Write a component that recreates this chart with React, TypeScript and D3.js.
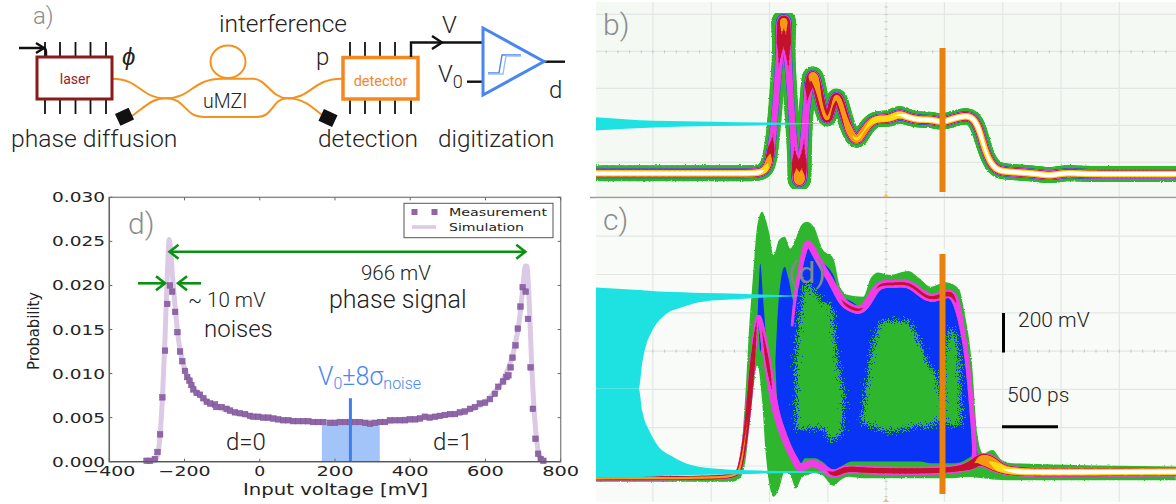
import React from "react";
import * as d3 from "d3";

// ---------- panel d: histogram ----------
const measV = [-301,-292,-279,-272,-265,-259,-252,-246,-239,-233,-225,-219,-212,-206,-199,-193,-187,-182,-177,-168,-159,-150,-141,-132,-119,-115,-101,-88,-79,-66,-53,-39,-26,-17,-4,9,23,36,49,63,76,89,102,116,129,142,156,169,187,200,213,227,240,253,266,280,293,306,320,333,346,359,373,386,399,413,426,439,452,466,479,492,506,519,532,545,559,572,585,599,612,625,634,647,656,661,667,672,680,686,693,699,707,713,720,726,733,740,747,754];
const measP = [.0001,.0001,.0003,.0011,.0031,.0073,.0126,.0179,.02,.0193,.017,.0147,.0125,.0114,.0103,.0096,.0092,.0087,.0082,.0078,.0076,.0072,.0068,.0066,.0065,.0062,.0062,.006,.0058,.0056,.0055,.0054,.0052,.0051,.0051,.005,.005,.0049,.0048,.0047,.0047,.0046,.0046,.0046,.0046,.0045,.0045,.0045,.0044,.0044,.0045,.0045,.0045,.0045,.0045,.0044,.0043,.0044,.0045,.0045,.0047,.0047,.0047,.0047,.0048,.0048,.0049,.0051,.005,.0051,.0052,.0053,.0054,.0054,.0056,.0057,.006,.0062,.0066,.0067,.0071,.0077,.0085,.0091,.0096,.0098,.0107,.0118,.0132,.0151,.0176,.0198,.0193,.0162,.0107,.006,.0026,.0009,.0003,.0001];
const simV = [-300,-280,-272,-265,-258,-252,-246,-241,-238,-232,-225,-215,-205,-190,-170,-140,-100,-50,0,50,100,170,240,320,400,450,500,560,600,640,660,675,690,700,706,710,716,722,730,738,745,755];
const simP = [0,.0001,.0007,.003,.008,.014,.021,.0252,.0245,.021,.0175,.0135,.0113,.0095,.008,.0068,.006,.0054,.005,.0048,.0046,.0045,.0045,.0045,.0049,.005,.0053,.0059,.0068,.0088,.0105,.0125,.016,.02,.0222,.0222,.0185,.012,.0055,.0018,.0005,0];
const xTicksD = [-400,-200,0,200,400,600,800];
const yTicksD = [0,.005,.01,.015,.02,.025,.03];

// ---------- panel b: single-state trace (ps, mV) ----------
const bT = [0,591,912,1233,1393,1457,1489,1522,1554,1586,1611,1640,1666,1698,1724,1746,1772,1798,1826,1859,1900,1939,1987,2019,2061,2099,2147,2196,2244,2292,2356,2420,2517,2597,2677,2773,2870,2966,3046,3127,3207,3271,3319,3367,3432,3512,3640,3801,3897,4025,4186,4443,4764,4974];
const bV = [0,0,0,0,0,18,72,216,486,720,880,684,432,144,-9,-60,36,324,486,550,468,342,270,360,430,378,270,198,175,225,279,297,292,324,302,288,292,274,292,306,312,270,162,72,18,9,4,-4,-14,4,-4,-4,-4,-4];
const bW = [16,16,16,16,16,16,15,14,14,15,28,15,14,14,18,24,18,14,16,20,18,16,16,15,18,17,16,16,18,16,16,16,16,18,16,16,16,16,16,16,16,16,15,15,16,16,16,16,16,16,16,16,16,16];
const bHot = [1,1,1,1,1,.8,.5,.12,.1,.3,.6,.3,.1,.1,.45,.7,.3,.1,.3,.6,.5,.45,.5,.4,.5,.5,.5,.6,.7,.6,.7,.8,.8,.8,1,1,1,1,1,1,1,1,.9,.9,1,1,1,1,1,1,1,1,1,1];
const bCyanT = [0,500,1000,1500,2003];
const bCyanTop = [303,284,279,274,270];
const bCyanBottom = [232,248,256,261,270];

// ---------- panel c: gated trace ----------
const cEnvT = [0,1168,1233,1281,1313,1345,1384,1425,1457,1483,1522,1570,1618,1666,1714,1762,1810,1875,1939,2035,2099,2164,2292,2356,2420,2517,2677,2773,2870,2998,3111,3159,3223,3271,3319,3399,3480,3576,4972];
const cEnvTop = [-5,-5,70,418,766,1027,1305,1375,1331,1270,1148,1227,1244,1183,1235,1305,1322,1288,1183,1131,974,940,931,1027,1058,1044,1065,1027,983,1006,974,853,592,209,113,131,78,61,44];
const cEnvBottom = [-35,-35,-17,70,244,418,574,383,104,-35,-113,-70,17,0,-70,-17,0,9,0,-56,-26,-9,-17,-17,-17,-17,-17,-17,-17,-17,-14,-10,-10,-14,-17,-23,-26,-28,-28];
const cBlueT = [1538,1570,1618,1650,1698,1746,1794,1875,1939,2035,2099,2196,2292,2356,2420,2549,2677,2773,2870,2998,3078,3143,3191,3255,3274];
const cBlueTop = [592,940,1088,1027,905,1079,1201,1157,1114,1044,940,905,870,940,1006,1001,1013,974,922,940,940,766,592,209,87];
const cBlueBottom = [592,261,209,148,70,52,87,87,70,26,44,70,70,70,70,70,70,70,61,61,61,70,87,104,87];
const cSpikeT = [1377,1393,1409,1431,1457];
const cSpikeTop = [679,940,1105,940,722];
const cSpikeBottom = [679,766,644,713,722];
const blobAT = [1714,1762,1810,1875,1939,2019,2051,2099,2131];
const blobATop = [626,905,1009,957,905,887,713,505,418];
const blobABottom = [244,235,244,244,244,183,191,209,418];
const blobBT = [2276,2340,2388,2484,2677,2773,2854,2918,2982];
const blobBTop = [278,557,713,809,800,696,574,522,278];
const blobBBottom = [278,261,252,226,244,261,252,278,278];
const blobCT = [2982,3046,3111,3133];
const blobCTop = [592,766,644,278];
const blobCBottom = [278,261,261,278];
const cUpT = [1682,1708,1746,1794,1826,1875,1939,2035,2115,2196,2276,2356,2420,2549,2677,2773,2870,2998,3078,3143,3191,3223,3255,3223];
const cUpV = [783,940,1062,1201,1218,1157,1088,992,896,870,853,922,1001,995,1006,957,913,948,948,766,574,331,104,49];
const cUpW = [7,8,11,14,16,16,16,16,16,16,16,16,16,16,16,16,16,16,16,12,12,12,12,12];
const cUpHot = [0,0,0,0,0,0,0,0,.25,.25,.25,.1,.25,.25,.25,.25,.25,.28,.3,0,0,0,0,0];
const cLoT = [0,1184,1233,1297,1361,1393,1441,1489,1538,1586,1650,1714,1746,1843,1939,2035,2131,2260,2517,2998,3223,3287,3383,3480,3640,3801,4972];
const cLoV = [-17,-17,9,244,731,880,696,522,331,244,139,70,26,70,44,-9,35,26,21,21,44,87,70,26,17,14,17];
const cLoW = [8,8,9,10,11,8,14,15,16,16,16,16,16,16,16,16,16,16,16,16,16,20,30,18,17,17,17];
const cLoHot = [.5,.5,.5,.4,.35,.1,.25,.3,.1,.1,.05,.05,.2,.1,.1,.3,.3,.3,.3,.3,.3,.5,.6,.8,1,1,1];
const cCyanUpT = [0,366,398,430,478,591,751,912,1233,1554,1794];
const cCyanUpTop = [979,966,965,963,961,957,954,950,947,940,935];
const cCyanUpBottom = [452,452,592,679,748,835,878,905,919,930,935];
const cCyanLoT = [0,366,398,462,526,655,815,1072,1393,1714,2003];
const cCyanLoTop = [452,452,331,226,157,96,52,31,23,21,16];
const cCyanLoBottom = [-14,-14,-10,-9,-7,-3,0,3,7,10,16];

// ---------- trace colours ----------
const layers = [
  { c: "#2fb62d", ratio: 1, th: -1 },
  { c: "#2350f0", ratio: 0.62, th: -1 },
  { c: "#f03ee6", ratio: 0.56, th: -1 },
  { c: "#c4122c", ratio: 0.48, th: 0.2 },
  { c: "#f59a12", ratio: 0.42, th: 0.4 },
  { c: "#f8de12", ratio: 0.34, th: 0.6 },
  { c: "#ffffff", ratio: 0.24, th: 0.8 },
];

const sans = "Roboto, 'Liberation Sans', sans-serif";
const mpl = "'DejaVu Sans', sans-serif";
const ink = "#232323";
const gray = "#8c8c8c";
const orange = "#f5871f";
const blue = "#4a86f0";
const darkGreen = "#0b9112";

const tx = d3.scaleLinear().domain([0, 4974]).range([596, 1176]);
const byB = d3.scaleLinear().domain([0, 200]).range([173.3, 136.3]);
const cy = d3.scaleLinear().domain([0, 200]).range([475, 436.7]);
const dx = d3.scaleLinear().domain([-400, 800]).range([109.33, 560.67]);
const dy = d3.scaleLinear().domain([0, 0.03]).range([461.67, 197.33]);

function band(t: number[], top: number[], bottom: number[], y: any) {
  const idx = d3.range(t.length);
  return d3.area<number>().x((i) => tx(t[i])).y0((i) => y(bottom[i])).y1((i) => y(top[i])).curve(d3.curveMonotoneX)(idx) as string;
}

function Trace({ t, v, w, hot, y, from = 0 }: any) {
  const n = (t.length - 1) * 8;
  const ft = d3.interpolateBasis(t), fv = d3.interpolateBasis(v), fw = d3.interpolateBasis(w), fh = d3.interpolateBasis(hot);
  const pts = d3.range(n + 1).map((i) => {
    const u = i / n;
    return { x: tx(ft(u)), y: y(fv(u)), w: fw(u), h: fh(u) };
  });
  const seg = d3.line<any>().x((p) => p.x).y((p) => p.y);
  return (
    <g fill="none" strokeLinecap="round">
      {layers.slice(from).map((l, li) => (
        <g key={li} stroke={l.c} filter={l.ratio === 1 ? "url(#rough)" : undefined}>
          {pts.slice(1).map((p, i) => {
            let k = 1;
            if (l.th >= 0) k = Math.max(0, Math.min(1, (p.h - l.th) / 0.15));
            else if (l.ratio < 1) k = 0.7 + 0.3 * Math.min(1, p.h / 0.4);
            const sw = p.w * l.ratio * k;
            return sw > 0.05 ? <path key={i} d={seg([pts[i], p]) as string} strokeWidth={sw} /> : null;
          })}
        </g>
      ))}
    </g>
  );
}

function Grid({ y, y0, top, bottom, mid }: any) {
  const vs = d3.range(488, 4974, 500);
  const hs = d3.range(y0, 1400, 200).filter((v: number) => y(v) > top && y(v) < bottom);
  const minor = d3.range(88, 4974, 100);
  const minorV = d3.range(y0 - 200, 1400, 40).filter((v: number) => y(v) > top && y(v) < bottom);
  return (
    <g>
      {vs.map((t: number) => <line key={t} x1={tx(t)} x2={tx(t)} y1={top} y2={bottom} stroke="#e3e7e3" strokeWidth={1.2} />)}
      {hs.map((v: number) => <line key={v} x1={596} x2={1176} y1={y(v)} y2={y(v)} stroke="#e3e7e3" strokeWidth={1.2} />)}
      {minor.map((t: number) => <line key={t} x1={tx(t)} x2={tx(t)} y1={y(mid) - 1.5} y2={y(mid) + 1.5} stroke="#c4c8c4" />)}
      {minorV.map((v: number) => <line key={v} x1={tx(2488) - 1.5} x2={tx(2488) + 1.5} y1={y(v)} y2={y(v)} stroke="#c4c8c4" />)}
    </g>
  );
}

function T({ x, y, s, c = ink, anchor = "start", w = 300, f = sans, ...rest }: any) {
  return <text x={x} y={y} fontSize={s} fill={c} textAnchor={anchor} fontWeight={w} fontFamily={f} {...rest} />;
}

function Chevron({ x, y, dir }: any) {
  return <path d={`M${x - dir * 9},${y - 7} L${x},${y} L${x - dir * 9},${y + 7}`} fill="none" stroke={darkGreen} strokeWidth={2.6} />;
}

function PanelA() {
  const wg = "#f5921e";
  const laserPins = [45, 60, 75.5, 90.5, 106];
  const detPins = [350, 365, 380, 395, 411];
  return (
    <g>
      <T x={33} y={24} s={24} c={gray}>a)</T>
      <T x={219} y={32} s={24.5}>interference</T>
      {laserPins.map((x) => <line key={x} x1={x} x2={x} y1={42} y2={114} stroke="#111" strokeWidth={1.8} />)}
      {detPins.map((x) => <line key={x} x1={x} x2={x} y1={42} y2={114} stroke="#111" strokeWidth={1.8} />)}
      <path d="M19,48 H43 Q46,48 46,52 V57" fill="none" stroke="#111" strokeWidth={2.4} />
      <path d="M36,43 L44,48 L36,53" fill="none" stroke="#111" strokeWidth={2.4} />
      <g fill="none" stroke={wg} strokeWidth={2}>
        <path d="M112,78.7 C140,78.7 140,98.3 166,98.3 C192,98.3 192,78.7 222,78.7 H253 C266,78.7 272,98.3 287,98.3 C312,98.3 312,78.7 342,78.7" />
        <path d="M132,116 C146,106 152,98.3 166,98.3 C186,98.3 184,117 204,117 H257 C274,117 272,98.3 287,98.3 C302,98.3 310,105 322,115" />
        <ellipse cx={228} cy={61.7} rx={17.5} ry={16.3} />
      </g>
      <rect x={37} y={57} width={75} height={42} fill="#fff" stroke="#8b1a1a" strokeWidth={3} />
      <T x={75} y={84} s={14} c="#96201f" anchor="middle" w={400}>laser</T>
      <rect x={343} y={57.5} width={75} height={41.5} fill="#fff" stroke={orange} strokeWidth={3.5} />
      <T x={380.5} y={86} s={14.5} c={orange} anchor="middle" w={400}>detector</T>
      <rect x={-7.5} y={-6.5} width={15} height={13} fill="#111" transform="translate(124.5,116.7) rotate(-25)" />
      <rect x={-7.5} y={-6.5} width={15} height={13} fill="#111" transform="translate(328,118) rotate(25)" />
      <T x={203} y={108} s={19.5}>uMZI</T>
      <T x={122} y={65} s={24} fontStyle="italic" w={400}>ϕ</T>
      <T x={316} y={65} s={24}>p</T>
      <path d="M411,57 V42.5 H483" fill="none" stroke="#111" strokeWidth={2.4} />
      <path d="M432,36 L442,42.5 L432,49" fill="none" stroke="#111" strokeWidth={2.4} />
      <T x={442} y={33} s={24}>V</T>
      <T x={438} y={82} s={24}>V<tspan dy={6} fontSize={18}>0</tspan></T>
      <line x1={467} x2={483} y1={81.7} y2={81.7} stroke="#111" strokeWidth={2.4} />
      <line x1={544} x2={565} y1={61.7} y2={61.7} stroke="#111" strokeWidth={2.4} />
      <path d="M483,28 L544,61.5 L483,95 Z" fill="#fff" stroke={blue} strokeWidth={3} />
      <path d="M488,73 H499 L502,55 H521" fill="none" stroke={blue} strokeWidth={1.4} />
      <path d="M488,74 H503 L506,56 H521" fill="none" stroke="#9dbdf6" strokeWidth={1.4} />
      <T x={549} y={98} s={24}>d</T>
      <T x={11} y={147} s={24.7}>phase diffusion</T>
      <T x={318} y={147} s={24.5}>detection</T>
      <T x={438} y={147} s={24.3}>digitization</T>
    </g>
  );
}

function PanelD() {
  const idx = d3.range(simV.length);
  const sim = d3.line<number>().x((i) => dx(simV[i])).y((i) => dy(simP[i])).curve(d3.curveMonotoneX)(idx) as string;
  const fmt = d3.format(".3f");
  const arrowL = dx(-240), arrowR = dx(706);
  return (
    <g>
      <rect x={dx(165)} width={dx(319) - dx(165)} y={dy(0.0045)} height={dy(0) - dy(0.0045)} fill="#a3c4f8" />
      <path d={sim} fill="none" stroke="#dcc9e6" strokeWidth={5} />
      {measV.map((v, i) => (
        <rect key={i} x={dx(v) - 2.8} y={dy(measP[i]) - 2.8} width={5.6} height={5.6} fill="#8f67a9" stroke="#7c5596" strokeWidth={0.5} />
      ))}
      <line x1={dx(241)} x2={dx(241)} y1={dy(0.0072)} y2={dy(0)} stroke="#3f7ef0" strokeWidth={3} />
      <rect x={dx(-400)} y={dy(0.03)} width={dx(800) - dx(-400)} height={dy(0) - dy(0.03)} fill="none" stroke="#8a8a8a" strokeWidth={1.4} />
      <line x1={dx(-400)} x2={dx(-400)} y1={dy(0)} y2={dy(0.03)} stroke="#666" strokeWidth={1.4} />
      <line x1={dx(-400)} x2={dx(800)} y1={dy(0)} y2={dy(0)} stroke="#555" strokeWidth={1.4} />
      {xTicksD.map((v) => (
        <g key={v} stroke="#666">
          <line x1={dx(v)} x2={dx(v)} y1={dy(0)} y2={dy(0) - 3} />
          <line x1={dx(v)} x2={dx(v)} y1={dy(0.03)} y2={dy(0.03) + 3} />
        </g>
      ))}
      {yTicksD.map((v) => (
        <g key={v} stroke="#666">
          <line x1={dx(-400)} x2={dx(-400) + 3} y1={dy(v)} y2={dy(v)} />
          <line x1={dx(800)} x2={dx(800) - 3} y1={dy(v)} y2={dy(v)} />
        </g>
      ))}
      {yTicksD.map((v) => (
        <T key={v} x={52} y={dy(v) + 5} s={14} f={mpl} w={400} textLength={53} lengthAdjust="spacingAndGlyphs">{fmt(v)}</T>
      ))}
      {xTicksD.map((v) => {
        const label = v < 0 ? "\u2212" + Math.abs(v) : String(v);
        const len = v === 0 ? 11 : v < 0 ? 52 : 37;
        return <T key={v} x={dx(v) - len / 2} y={476} s={14} f={mpl} w={400} textLength={len} lengthAdjust="spacingAndGlyphs">{label}</T>;
      })}
      <T x={243} y={495} s={15} f={mpl} w={400} textLength={185} lengthAdjust="spacingAndGlyphs">Input voltage [mV]</T>
      <T x={0} y={0} s={15} f={mpl} w={400} textLength={78} lengthAdjust="spacingAndGlyphs" transform="translate(39,370) rotate(-90)">Probability</T>

      <rect x={404} y={203.3} width={149} height={34.4} fill="#fff" stroke="#555" strokeWidth={1} />
      <rect x={411.5} y={209} width={6} height={6} fill="#8f67a9" />
      <rect x={431.5} y={209} width={6} height={6} fill="#8f67a9" />
      <T x={449} y={216} s={10.5} f={mpl} w={400} textLength={98} lengthAdjust="spacingAndGlyphs">Measurement</T>
      <line x1={412} x2={436} y1={227} y2={227} stroke="#dcc9e6" strokeWidth={3.5} />
      <T x={449} y={231} s={10.5} f={mpl} w={400} textLength={75} lengthAdjust="spacingAndGlyphs">Simulation</T>

      <line x1={arrowL + 1} x2={arrowR} y1={251.7} y2={251.7} stroke={darkGreen} strokeWidth={2.6} />
      <Chevron x={arrowL} y={251.7} dir={-1} />
      <Chevron x={arrowR} y={251.7} dir={1} />
      <line x1={138} x2={164} y1={283.3} y2={283.3} stroke={darkGreen} strokeWidth={2.6} />
      <Chevron x={165} y={283.3} dir={1} />
      <line x1={179} x2={201} y1={283.3} y2={283.3} stroke={darkGreen} strokeWidth={2.6} />
      <Chevron x={178} y={283.3} dir={-1} />

      <T x={128} y={234} s={30} c={gray}>d)</T>
      <T x={188} y={306.7} s={20.5}>~ 10 mV</T>
      <T x={204} y={336.7} s={24}>noises</T>
      <T x={361} y={280} s={20.5}>966 mV</T>
      <T x={329} y={307.7} s={25}>phase signal</T>
      <T x={318} y={385} s={25} c={blue}>V<tspan dy={4} fontSize={16}>0</tspan><tspan dy={-4}>±8σ</tspan><tspan dy={4} fontSize={16}>noise</tspan></T>
      <T x={226} y={450} s={24}>d=0</T>
      <T x={433} y={450} s={24}>d=1</T>
    </g>
  );
}

function PanelB() {
  return (
    <g>
      <rect x={596} y={2} width={580} height={195} fill="#f4f9f3" />
      <Grid y={byB} y0={59} top={2} bottom={197} mid={657} />
      <g clipPath="url(#clipB)">
        <Trace t={bT} v={bV} w={bW} hot={bHot} y={byB} />
        <path d={band(bCyanT, bCyanTop, bCyanBottom, byB)} fill="#1ee2e2" />
      </g>
      <rect x={939.5} y={48} width={6} height={144} fill="#e9820c" />
      <line x1={590} x2={1176} y1={197.5} y2={197.5} stroke="#9a9a9a" strokeWidth={1.6} />
      <path d="M883,197 L886,193.5 L889,197 Z" fill="#f4c07a" />
      <T x={603} y={35} s={30} c={gray}>b)</T>
    </g>
  );
}

function PanelC() {
  return (
    <g>
      <rect x={596} y={198.5} width={580} height={303.5} fill="#f8fbf8" />
      <Grid y={cy} y0={47} top={199} bottom={502} mid={647} />
      <g clipPath="url(#clipC)">
        <path d={band(cEnvT, cEnvTop, cEnvBottom, cy)} fill={layers[0].c} filter="url(#rough)" />
        <path d={band(cBlueT, cBlueTop, cBlueBottom, cy)} fill="#0a34f5" />
        <path d={band(cSpikeT, cSpikeTop, cSpikeBottom, cy)} fill="#0a34f5" />
        <g fill={layers[0].c} filter="url(#speck)">
          <path d={band(blobAT, blobATop, blobABottom, cy)} />
          <path d={band(blobBT, blobBTop, blobBBottom, cy)} />
          <path d={band(blobCT, blobCTop, blobCBottom, cy)} />
        </g>
        <Trace t={cUpT} v={cUpV} w={cUpW} hot={cUpHot} y={cy} from={2} />
        <Trace t={cLoT} v={cLoV} w={cLoW} hot={cLoHot} y={cy} from={2} />
        <path d={band(cCyanUpT, cCyanUpTop, cCyanUpBottom, cy)} fill="#1ee2e2" />
        <path d={band(cCyanLoT, cCyanLoTop, cCyanLoBottom, cy)} fill="#1ee2e2" />
      </g>
      <rect x={940} y={249} width={5} height={5} fill="#fff" />
      <rect x={939.5} y={254} width={6} height={240} fill="#e9820c" />
      <line x1={1003.5} x2={1003.5} y1={313} y2={352.5} stroke="#000" strokeWidth={3} />
      <line x1={1002} x2={1058} y1={426.7} y2={426.7} stroke="#000" strokeWidth={3} />
      <path d="M883,502 L886,498.5 L889,502 Z" fill="#f4c07a" />
      <T x={1018} y={327} s={21}>200 mV</T>
      <T x={1007} y={402} s={21}>500 ps</T>
      <T x={603} y={230} s={30} c={gray}>c)</T>
      <T x={788} y={283} s={30} c="#808a90" w={400}>(d)</T>
    </g>
  );
}

export default function App() {
  return (
    <svg width={1176} height={504} viewBox="0 0 1176 504" style={{ position: "absolute", left: 0, top: 0, display: "block", background: "#fff" }}>
      <defs>
        <clipPath id="clipB"><rect x={596} y={2} width={580} height={195} /></clipPath>
        <clipPath id="clipC"><rect x={596} y={198.5} width={580} height={303.5} /></clipPath>
        <filter id="rough" x="-5%" y="-5%" width="110%" height="110%" filterUnits="objectBoundingBox">
          <feTurbulence type="fractalNoise" baseFrequency="0.7" numOctaves={1} seed={3} />
          <feDisplacementMap in="SourceGraphic" scale={2.5} xChannelSelector="R" yChannelSelector="G" />
        </filter>
        <filter id="speck" x="-8%" y="-8%" width="116%" height="116%">
          <feTurbulence type="fractalNoise" baseFrequency="0.85" numOctaves={2} seed={8} />
          <feDisplacementMap in="SourceGraphic" scale={22} xChannelSelector="R" yChannelSelector="G" />
        </filter>
      </defs>
      <PanelA />
      <PanelD />
      <PanelB />
      <PanelC />
    </svg>
  );
}
